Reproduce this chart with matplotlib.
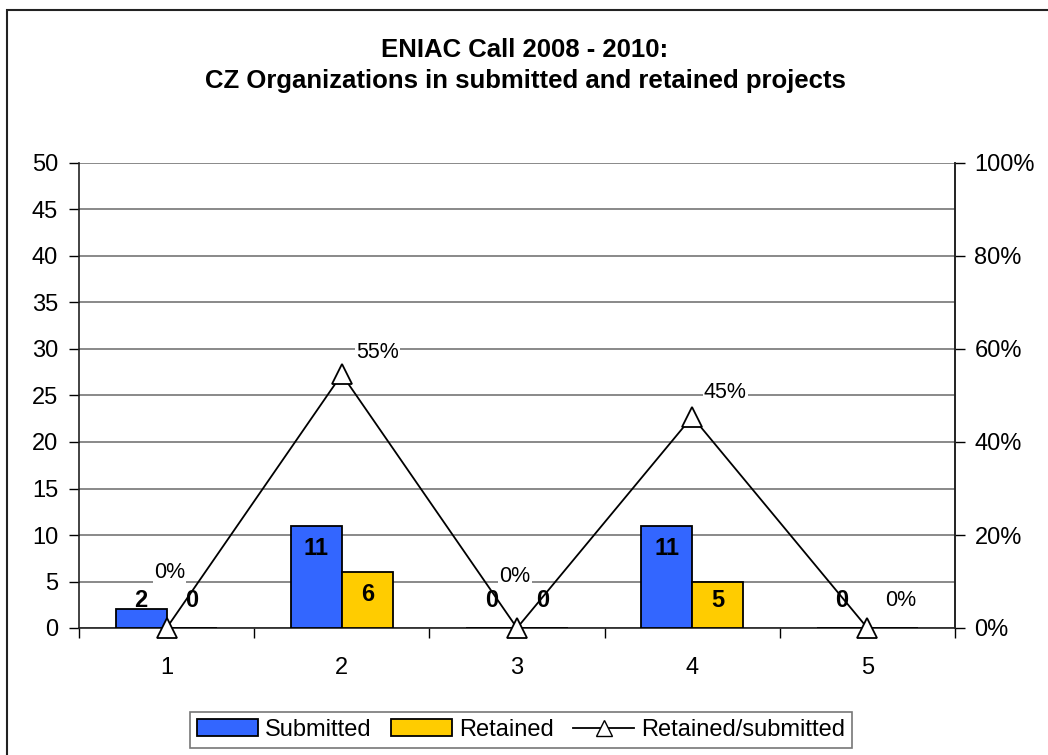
import numpy as np
import matplotlib.pyplot as plt
from matplotlib.patches import Rectangle, Patch
from matplotlib.lines import Line2D

plt.rcParams['font.family'] = ['Liberation Sans', 'DejaVu Sans']

# --- data ---
categories = ['1', '2', '3', '4', '5']
submitted = [2, 11, 0, 11, 0]
retained = [0, 6, 0, 5, 0]
ratio = [0.0, 0.5454, 0.0, 0.4545, 0.0]
ratio_labels = ['0%', '55%', '0%', '45%', '0%']
# the last retained label is hidden under the "0%" label in the original
retained_label_shown = [True, True, True, True, False]
# where Excel dropped the percent labels (offset in pixels from the marker)
ratio_label_offsets = [(3, 55), (36, 22), (-2, 52), (33, 24), (33, 28)]

blue = '#3366FF'
gold = '#FFCC00'

fig = plt.figure(figsize=(10.48, 7.55), dpi=100)
ax = fig.add_axes([79 / 1048, 127 / 755, 876 / 1048, 465 / 755])

# outer chart border (only left/top visible in the picture)
fig.patches.append(Rectangle((7 / 1048, -0.05), 1.2, (755 - 10) / 755 + 0.05,
                             transform=fig.transFigure, fill=False,
                             edgecolor='#222222', linewidth=1.5))

x = np.arange(1, len(categories) + 1)
w = 0.29
ax.bar(x - w / 2, submitted, w, color=blue, edgecolor='black', linewidth=1.3, zorder=3)
ax.bar(x + w / 2, retained, w, color=gold, edgecolor='black', linewidth=1.3, zorder=3)

for i, (xi, s, r) in enumerate(zip(x, submitted, retained)):
    ax.text(xi - w / 2, max(s - 2.4, 3.0), str(s), ha='center', va='center',
            fontsize=17, fontweight='bold', zorder=6)
    if retained_label_shown[i]:
        ax.text(xi + w / 2, max(r - 2.4, 3.0), str(r), ha='center', va='center',
                fontsize=17, fontweight='bold', zorder=6)

ax.set_xlim(0.5, 5.5)
ax.set_ylim(0, 50)
ax.set_yticks(np.arange(0, 51, 5))
ax.yaxis.grid(True, color='#808080', linewidth=1.3)
ax.set_axisbelow(True)
ax.set_xticks(x)
ax.set_xticklabels(categories)
ax.set_xticks(np.arange(0.5, 5.6, 1), minor=True)
ax.tick_params(axis='x', which='major', length=0, pad=21, labelsize=17)
ax.tick_params(axis='x', which='minor', length=7, width=1, direction='out')
ax.tick_params(axis='y', length=7, width=1, direction='out', labelsize=17, pad=8)
ax.spines['top'].set_visible(False)
for side in ('left', 'bottom', 'right'):
    ax.spines[side].set_linewidth(1.2)
    ax.spines[side].set_color('#222222')

ax2 = ax.twinx()
ax2.plot(x, ratio, color='black', linewidth=1.3, marker='^', markersize=15,
         markerfacecolor='white', markeredgecolor='black', markeredgewidth=1.3,
         zorder=5, clip_on=False)
ax2.set_ylim(0, 1)
pct_ticks = np.arange(0, 1.01, 0.2)
ax2.set_yticks(pct_ticks)
ax2.set_yticklabels([f'{int(round(t * 100))}%' for t in pct_ticks])
ax2.tick_params(axis='y', length=7, width=1, direction='out', labelsize=17, pad=7)
for side in ('top', 'left', 'bottom'):
    ax2.spines[side].set_visible(False)
ax2.spines['right'].set_linewidth(1.2)
ax2.spines['right'].set_color('#222222')

for xi, v, lab, off in zip(x, ratio, ratio_labels, ratio_label_offsets):
    ax2.annotate(lab, (xi, v), xytext=off, textcoords='offset pixels',
                 ha='center', va='center', fontsize=15.5,
                 bbox=dict(boxstyle='square,pad=0.05', facecolor='white', edgecolor='none'),
                 zorder=7)

fig.text(525 / 1048, 1 - 57 / 755, 'ENIAC Call 2008 - 2010:',
         ha='center', va='baseline', fontsize=18.5, fontweight='bold')
fig.text(525 / 1048, 1 - 88 / 755,
         'CZ Organizations in submitted and retained projects',
         ha='center', va='baseline', fontsize=18.5, fontweight='bold')

handles = [Patch(facecolor=blue, edgecolor='black', linewidth=1.3),
           Patch(facecolor=gold, edgecolor='black', linewidth=1.3),
           Line2D([0], [0], color='black', linewidth=1.3, marker='^', markersize=12,
                  markerfacecolor='white', markeredgecolor='black')]
leg = fig.legend(handles, ['Submitted', 'Retained', 'Retained/submitted'],
                 loc='center', bbox_to_anchor=(521 / 1048, 1 - 730 / 755), ncol=3,
                 fontsize=17, frameon=True, fancybox=False, edgecolor='#555555',
                 handlelength=2.6, handletextpad=0.3, columnspacing=0.8,
                 borderpad=0.3)
leg.get_frame().set_linewidth(1.2)

fig.savefig('out.png', dpi=100)
